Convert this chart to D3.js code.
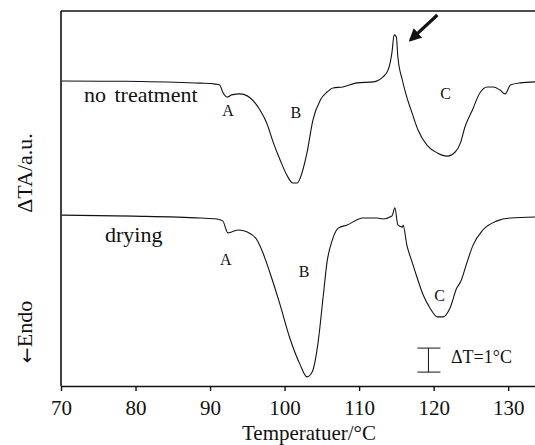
<!DOCTYPE html>
<html>
<head>
<meta charset="utf-8">
<script src="https://cdn.jsdelivr.net/npm/d3@7"></script>
<style>
  body { margin: 0; background: #fff; }
  text { font-family: "Liberation Serif", "Times New Roman", serif; fill: #111; }
</style>
</head>
<body>
<svg id="chart" width="535" height="445"></svg>
<script>
// temperatures (°C) and DTA signal (in ΔT units, arbitrary offset)
var tempNoTreat = [70.1, 75.4, 80.6, 88.7, 90.7, 91.3, 91.7, 92.3, 92.9, 94.0, 95.4, 96.7, 97.6, 98.5, 99.4, 100.3, 101.1, 101.7, 102.1, 103.0, 103.8, 104.8, 105.7, 106.5, 107.8, 109.7, 111.9, 113.2, 113.9, 114.4, 114.7, 115.0, 115.2, 115.8, 116.4, 117.1, 117.9, 119.1, 120.5, 121.8, 122.9, 123.6, 124.2, 125.2, 126.2, 127.2, 128.0, 128.9, 129.6, 130.3, 131.6, 133.6];
var dtaNoTreat  = [12.71, 12.70, 12.69, 12.62, 12.58, 12.54, 12.25, 12.04, 12.13, 12.17, 12.0, 11.5, 10.96, 10.13, 9.42, 8.79, 8.46, 8.46, 8.67, 9.71, 11.08, 11.92, 12.25, 12.42, 12.46, 12.63, 12.67, 12.88, 13.17, 13.88, 14.63, 14.54, 13.71, 12.75, 12.04, 11.38, 10.67, 10.04, 9.71, 9.58, 9.75, 10.13, 10.79, 11.5, 12.21, 12.46, 12.46, 12.33, 12.17, 12.54, 12.63, 12.67];

var tempDrying = [70.1, 79.7, 88.7, 90.9, 91.7, 92.4, 92.9, 93.8, 95.0, 96.3, 97.1, 98.0, 99.4, 100.7, 102.1, 103.0, 103.7, 104.5, 105.2, 105.7, 106.4, 107.2, 108.4, 110.5, 112.4, 113.2, 114.4, 114.8, 115.2, 115.8, 115.9, 116.4, 117.1, 117.8, 118.6, 119.5, 120.5, 121.3, 122.2, 123.1, 123.6, 124.5, 125.3, 126.6, 128.5, 130.3, 133.6];
var dtaDrying  = [7.12, 7.08, 7.0, 6.96, 6.88, 6.38, 6.42, 6.5, 6.42, 6.08, 5.54, 4.75, 3.38, 2.0, 0.88, 0.38, 0.58, 1.83, 3.79, 5.17, 6.08, 6.58, 6.71, 7.0, 7.0, 6.96, 7.08, 7.42, 6.71, 6.62, 6.71, 5.88, 5.17, 4.5, 3.79, 3.25, 2.88, 2.88, 3.25, 4.08, 4.33, 5.17, 5.88, 6.5, 6.88, 7.0, 7.04];

var xTicks = [70, 80, 90, 100, 110, 120, 130];

// peak letters: [label, temperature, value]
var peaksNoTreat = [["A", 92.4, 11.4], ["B", 101.5, 11.3], ["C", 121.6, 12.1]];
var peaksDrying  = [["A", 92.1, 5.2], ["B", 102.6, 4.7], ["C", 120.8, 3.7]];

var svg = d3.select("#chart");
var padL = 61, padR = 535, padT = 11, padB = 386;

var x = d3.scaleLinear().domain([70, 133.6]).range([padL, padR]);
var y = d3.scaleLinear().domain([0, 15.625]).range([padB, padT]);

// frame: top line + left axis
svg.append("line").attr("x1", padL).attr("x2", padR).attr("y1", padT).attr("y2", padT)
  .attr("stroke", "#111").attr("stroke-width", 1.6);
svg.append("line").attr("x1", padL).attr("x2", padL).attr("y1", padT).attr("y2", padB)
  .attr("stroke", "#111").attr("stroke-width", 1.6);

var xAxis = svg.append("g").attr("transform", "translate(0," + padB + ")")
  .attr("font-family", "Liberation Serif")
  .call(d3.axisBottom(x).tickValues(xTicks).tickSize(5).tickSizeOuter(0).tickPadding(9));
xAxis.select(".domain").attr("stroke", "#111").attr("stroke-width", 1.6);
xAxis.selectAll(".tick line").attr("stroke", "#111").attr("stroke-width", 1.4);
xAxis.selectAll(".tick text").style("font-size", "21px").style("font-family", "Liberation Serif");

var line = d3.line().x(function (d) { return x(d[0]); }).y(function (d) { return y(d[1]); })
  .curve(d3.curveMonotoneX);

[[tempNoTreat, dtaNoTreat], [tempDrying, dtaDrying]].forEach(function (s) {
  svg.append("path").datum(d3.zip(s[0], s[1]))
    .attr("d", line).attr("fill", "none").attr("stroke", "#111").attr("stroke-width", 1.1);
});

peaksNoTreat.concat(peaksDrying).forEach(function (p) {
  svg.append("text").attr("x", x(p[1])).attr("y", y(p[2])).attr("text-anchor", "middle")
    .attr("dominant-baseline", "middle").style("font-size", "16px").text(p[0]);
});

svg.append("text").attr("x", 84).attr("y", 97).attr("dominant-baseline", "middle")
  .style("font-size", "22px").style("word-spacing", "3px").text("no treatment");
svg.append("text").attr("x", 105).attr("y", 237).attr("dominant-baseline", "middle")
  .style("font-size", "22px").text("drying");

// arrow pointing at the exothermic spike
svg.append("defs").append("marker").attr("id", "head").attr("viewBox", "0 0 10 10")
  .attr("refX", 8).attr("refY", 5).attr("markerWidth", 4).attr("markerHeight", 4)
  .attr("orient", "auto").append("path").attr("d", "M0,0L10,5L0,10z").attr("fill", "#111");
svg.append("line").attr("x1", x(120.5)).attr("y1", y(15.46)).attr("x2", x(116.9)).attr("y2", y(14.42))
  .attr("stroke", "#111").attr("stroke-width", 3.2).attr("marker-end", "url(#head)");

// scale bar ΔT = 1 °C
var barX = x(119.3);
svg.append("line").attr("x1", barX).attr("x2", barX).attr("y1", y(1.58)).attr("y2", y(0.58)).attr("stroke", "#111");
[1.58, 0.58].forEach(function (v) {
  svg.append("line").attr("x1", barX - 11).attr("x2", barX + 12).attr("y1", y(v)).attr("y2", y(v)).attr("stroke", "#111");
});
svg.append("text").attr("x", 451).attr("y", 359).attr("dominant-baseline", "middle")
  .style("font-size", "18px").text("ΔT=1°C");

svg.append("text").attr("x", 309).attr("y", 435).attr("text-anchor", "middle")
  .attr("dominant-baseline", "middle").style("font-size", "21px").text("Temperatuer/°C");
svg.append("text").attr("transform", "translate(27,173) rotate(-90)").attr("text-anchor", "middle")
  .attr("dominant-baseline", "middle").style("font-size", "22px").text("ΔTA/a.u.");
var endo = svg.append("text").attr("transform", "translate(27,332) rotate(-90)").attr("text-anchor", "middle")
  .attr("dominant-baseline", "middle").style("font-size", "22px");
endo.append("tspan").style("font-family", "DejaVu Sans").style("font-size", "19px").text("←");
endo.append("tspan").text("Endo");
</script>
</body>
</html>
